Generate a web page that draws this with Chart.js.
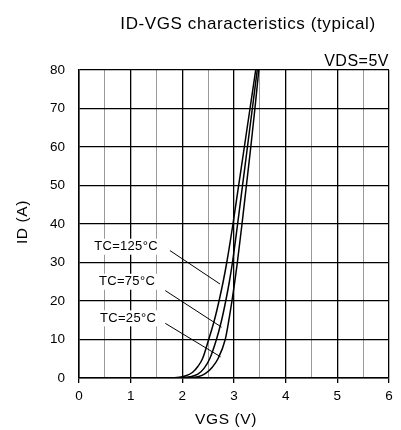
<!DOCTYPE html>
<html>
<head>
<meta charset="utf-8">
<script src="https://cdn.jsdelivr.net/npm/chart.js@4/dist/chart.umd.min.js"></script>
<style>
  body { margin: 0; background: #fff; }
  #wrap { width: 401px; height: 430px; }
</style>
</head>
<body>
<div id="wrap"><canvas id="myChart" width="401" height="430"></canvas></div>
<script>
// ID-VGS curves (VGS in V, ID in A)
const vgs125 = [1.4, 1.6, 1.9, 2.05, 2.2, 2.3, 2.39, 2.51, 2.62, 2.71, 2.79, 2.86, 2.98, 3.09, 3.20, 3.31, 3.42];
const id125  = [0,   0,   0.1, 0.5,  1.5, 3,   5,    10,   15,   20,   25,   30,   40,   50,   60,   70,   80];

const vgs75 = [1.4, 1.9, 2.15, 2.3, 2.42, 2.53, 2.66, 2.76, 2.84, 2.91, 2.97, 3.07, 3.165, 3.26, 3.355, 3.45];
const id75  = [0,   0,   0.3,  1,   2.5,  5,    10,   15,   20,   25,   30,   40,   50,    60,   70,    80];

const vgs25 = [1.4, 2.1, 2.3, 2.45, 2.58, 2.69, 2.83, 2.9, 2.96, 3.015, 3.065, 3.155, 3.24, 3.325, 3.405, 3.48];
const id25  = [0,   0,   0.3, 1.2,  2.8,  5,    10,   15,  20,   25,    30,    40,    50,   60,    70,    80];

const curveLabels = ['TC=125°C', 'TC=75°C', 'TC=25°C'];
// label centre and leader line (from -> to) in data units
const labelX = [0.91, 0.93, 0.95];
const labelY = [34.1, 25.0, 15.5];
const leaderFromX = [1.76, 1.67, 1.67];
const leaderFromY = [33.1, 22.7, 14.2];
const leaderToX = [2.73, 2.76, 2.74];
const leaderToY = [24.4, 13.2, 5.5];

const xTicks = [0, 1, 2, 3, 4, 5, 6];
const yTicks = [0, 10, 20, 30, 40, 50, 60, 70, 80];

const FONT = '"Liberation Sans", Arial, sans-serif';

function toPoints(xs, ys) {
    return xs.map((x, i) => ({ x: x, y: ys[i] }));
}

function curve(xs, ys) {
    return {
        data: toPoints(xs, ys),
        showLine: true,
        borderColor: '#000',
        borderWidth: 1.5,
        pointRadius: 0,
        cubicInterpolationMode: 'monotone',
        fill: false
    };
}

const textPlugin = {
    id: 'texts',
    afterDraw(chart) {
        const ctx = chart.ctx;
        const xs = chart.scales.x, ys = chart.scales.y;
        ctx.save();
        ctx.fillStyle = '#000';

        // title
        ctx.font = '17px ' + FONT;
        ctx.letterSpacing = '0.6px';
        ctx.textAlign = 'center';
        ctx.textBaseline = 'middle';
        ctx.fillText('ID-VGS characteristics (typical)', 248, 24);

        // condition
        ctx.font = '16px ' + FONT;
        ctx.letterSpacing = '0.5px';
        ctx.textAlign = 'right';
        ctx.textBaseline = 'alphabetic';
        ctx.fillText('VDS=5V', chart.chartArea.right, 66);

        // axis titles
        ctx.font = '15.5px ' + FONT;
        ctx.letterSpacing = '0.6px';
        ctx.textAlign = 'center';
        ctx.textBaseline = 'middle';
        ctx.fillText('VGS (V)', 226, 420);
        ctx.save();
        ctx.translate(23, 222);
        ctx.rotate(-Math.PI / 2);
        ctx.fillText('ID (A)', 0, 0);
        ctx.restore();

        // leader lines
        ctx.strokeStyle = '#000';
        ctx.lineWidth = 1;
        for (let i = 0; i < curveLabels.length; i++) {
            ctx.beginPath();
            ctx.moveTo(xs.getPixelForValue(leaderFromX[i]), ys.getPixelForValue(leaderFromY[i]));
            ctx.lineTo(xs.getPixelForValue(leaderToX[i]), ys.getPixelForValue(leaderToY[i]));
            ctx.stroke();
        }

        // curve labels on white boxes
        ctx.font = '13px ' + FONT;
        ctx.letterSpacing = '0.3px';
        for (let i = 0; i < curveLabels.length; i++) {
            const cx = xs.getPixelForValue(labelX[i]);
            const cy = ys.getPixelForValue(labelY[i]);
            const w = ctx.measureText(curveLabels[i]).width;
            ctx.fillStyle = '#fff';
            ctx.fillRect(cx - w / 2 - 3, cy - 8, w + 6, 16);
            ctx.fillStyle = '#000';
            ctx.fillText(curveLabels[i], cx, cy);
        }
        ctx.restore();
    }
};

const ctx = document.getElementById('myChart').getContext('2d');
const ID_VGS_chart = new Chart(ctx, {
    type: 'scatter',
    data: {
        datasets: [
            curve(vgs125, id125),
            curve(vgs75, id75),
            curve(vgs25, id25)
        ]
    },
    options: {
        responsive: false,
        animation: false,
        layout: { padding: { top: 70, right: 12, left: 0, bottom: 0 } },
        plugins: {
            legend: { display: false },
            tooltip: { enabled: false }
        },
        scales: {
            x: {
                type: 'linear',
                min: 0,
                max: 6,
                afterBuildTicks: (scale) => {
                    // half-volt minor lines between the labelled ticks
                    const t = [];
                    xTicks.forEach((v, i) => {
                        t.push({ value: v });
                        if (i < xTicks.length - 1) t.push({ value: v + 0.5 });
                    });
                    scale.ticks = t;
                },
                afterFit: (scale) => { scale.height = 52; },
                ticks: {
                    autoSkip: false,
                    maxRotation: 0,
                    padding: 5,
                    color: '#000',
                    font: { family: FONT, size: 13.5 },
                    callback: (v) => xTicks.includes(v) ? String(v) : ''
                },
                grid: {
                    color: (c) => xTicks.includes(c.tick.value) ? '#000' : '#9a9a9a',
                    lineWidth: (c) => xTicks.includes(c.tick.value) ? 1.3 : 1,
                    tickColor: (c) => xTicks.includes(c.tick.value) ? '#000' : 'rgba(0,0,0,0)',
                    tickLength: 5
                },
                border: { color: '#000', width: 1.5 }
            },
            y: {
                min: 0,
                max: 80,
                afterBuildTicks: (scale) => { scale.ticks = yTicks.map(v => ({ value: v })); },
                afterFit: (scale) => { scale.width = 79; },
                ticks: {
                    padding: 14,
                    color: '#000',
                    font: { family: FONT, size: 13.5 }
                },
                grid: {
                    color: '#000',
                    lineWidth: 1.3,
                    drawTicks: false
                },
                border: { color: '#000', width: 1.5 }
            }
        }
    },
    plugins: [textPlugin]
});
console.log("Loaded");
</script>
</body>
</html>
